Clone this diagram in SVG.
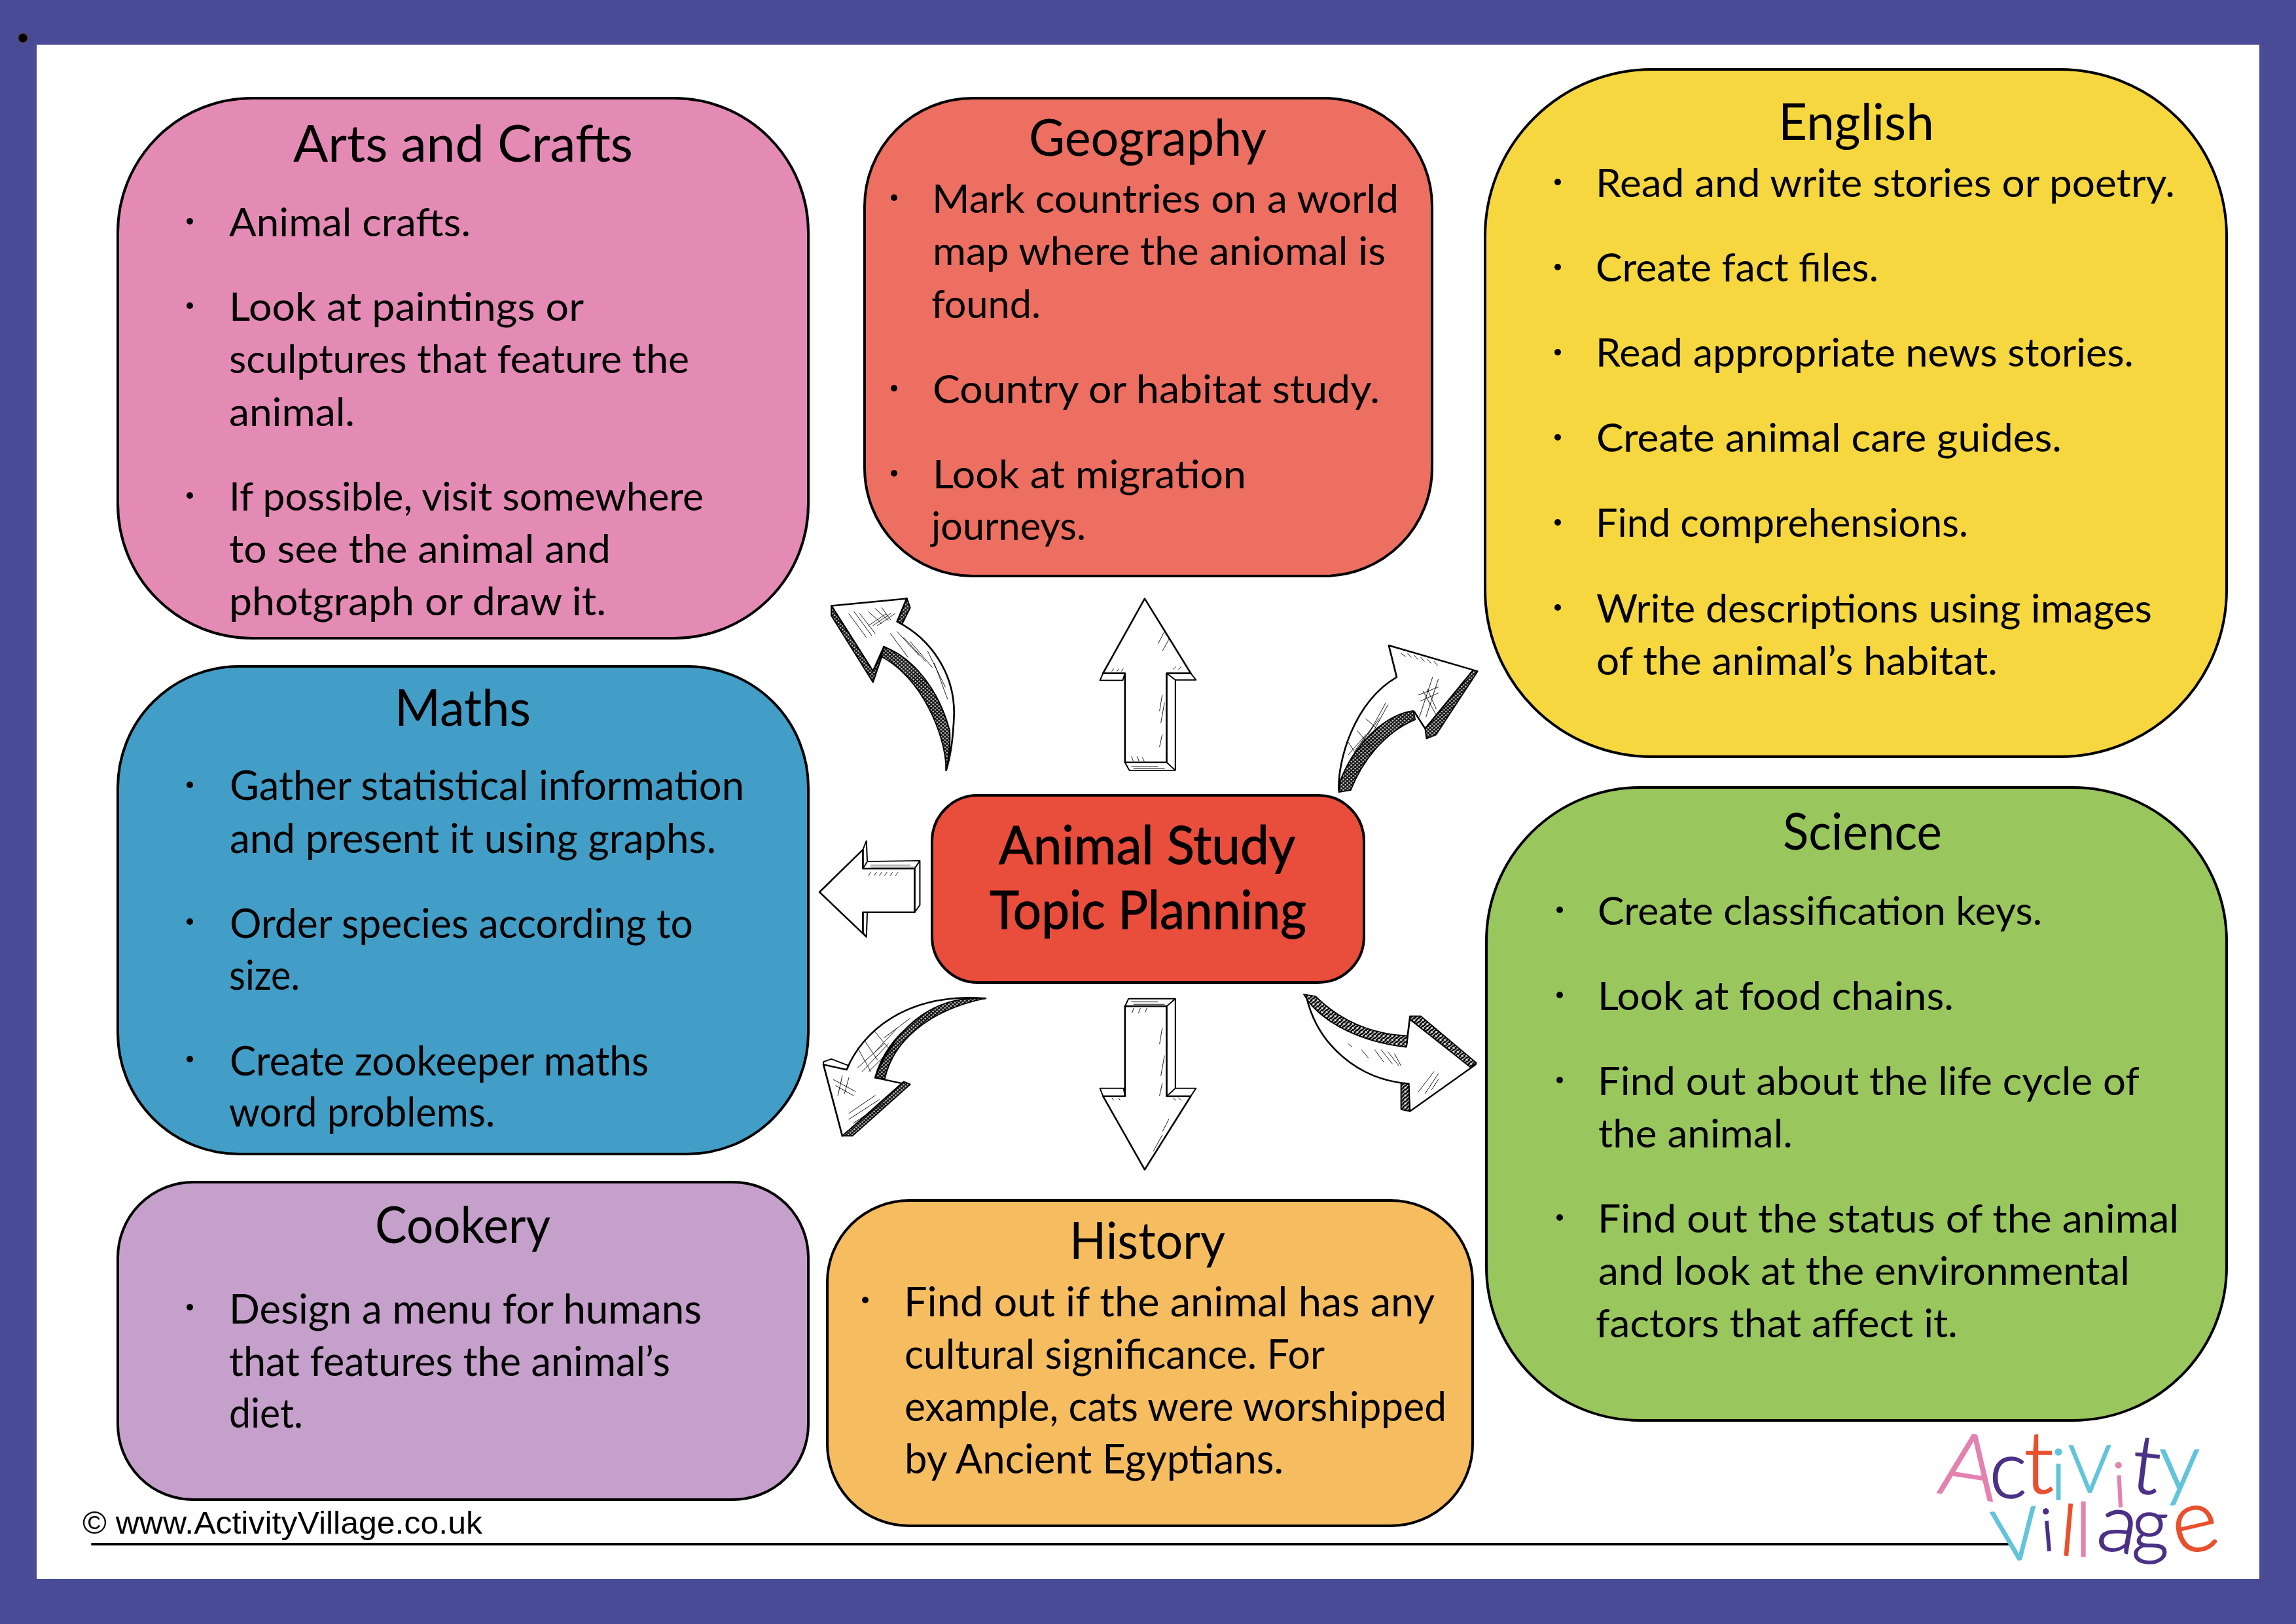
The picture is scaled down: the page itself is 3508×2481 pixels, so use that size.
<svg xmlns="http://www.w3.org/2000/svg" width="3508" height="2481" viewBox="0 0 3508 2481">
<style>
.box{stroke:#000;stroke-width:4}
text{font-family:"Lato","Noto Sans",sans-serif;fill:#000}
.t{font-size:78px}
.b{font-size:60px}
.bb{font-size:62px}
.c{font-size:82px}
.f{font-family:"Liberation Sans",Arial,sans-serif;font-size:49px}
.dot{fill:#000}
.af{fill:#fff;stroke:#000;stroke-width:4;stroke-linejoin:round}
.as{fill:#fff;stroke:#000;stroke-width:3;stroke-linejoin:round}
.ad{fill:url(#xh);stroke:#000;stroke-width:3;stroke-linejoin:round}
.ar{fill:url(#st);stroke:#000;stroke-width:3;stroke-linejoin:round}
.ah{fill:none;stroke:#000;stroke-width:1.4;stroke-linecap:round}
.lg text{font-family:"Lato","Noto Sans",sans-serif;font-weight:300;text-anchor:middle;stroke-width:1.6px}
.pk{fill:#E382B1!important;stroke:#E382B1}.pu{fill:#4B3186!important;stroke:#4B3186}.or{fill:#E9502E!important;stroke:#E9502E}.cy{fill:#62C4DA!important;stroke:#62C4DA}
</style>
<defs>
<pattern id="xh" width="9" height="9" patternUnits="userSpaceOnUse"><rect width="9" height="9" fill="#ccc"/><path d="M0 0L9 9M9 0L0 9" stroke="#000" stroke-width="2.4"/></pattern>
<pattern id="st" width="10" height="10" patternUnits="userSpaceOnUse"><rect width="10" height="10" fill="#fff"/><path d="M-2 8L8 -2M2 12L12 2" stroke="#000" stroke-width="3.8"/></pattern>
</defs>
<rect id="frame" width="3508" height="2481" fill="#494B96"/>
<rect id="page" x="56" y="68.5" width="3396" height="2343.5" fill="#fff"/>
<circle id="mark" cx="35" cy="58" r="7" fill="#000" stroke="#6b3a10" stroke-width="1"/>

<g id="arts">
<rect class="box" x="180" y="150" width="1055" height="825" rx="205" ry="205" fill="#E48BB5"/>
<text class="t" x="448" y="247" textLength="519" lengthAdjust="spacingAndGlyphs">Arts and Crafts</text>
<circle class="dot" cx="290" cy="338" r="5"/><circle class="dot" cx="290" cy="467" r="5"/><circle class="dot" cx="290" cy="757" r="5"/>
<text class="b" x="350" y="361" textLength="369" lengthAdjust="spacingAndGlyphs">Animal crafts.</text>
<text class="b" x="350" y="490" textLength="542" lengthAdjust="spacingAndGlyphs">Look at paintings or</text>
<text class="b" x="350" y="570" textLength="703" lengthAdjust="spacingAndGlyphs">sculptures that feature the</text>
<text class="b" x="350" y="651" textLength="192" lengthAdjust="spacingAndGlyphs">animal.</text>
<text class="b" x="350" y="780" textLength="725" lengthAdjust="spacingAndGlyphs">If possible, visit somewhere</text>
<text class="b" x="350" y="860" textLength="583" lengthAdjust="spacingAndGlyphs">to see the animal and</text>
<text class="b" x="350" y="940" textLength="576" lengthAdjust="spacingAndGlyphs">photgraph or draw it.</text>
</g>

<g id="maths">
<rect class="box" x="180" y="1018" width="1055" height="745" rx="185" ry="185" fill="#429EC6"/>
<text class="t" x="603" y="1109" textLength="208" lengthAdjust="spacingAndGlyphs">Maths</text>
<circle class="dot" cx="290" cy="1199" r="5"/><circle class="dot" cx="290" cy="1408" r="5"/><circle class="dot" cx="290" cy="1618" r="5"/>
<text class="bb" x="351" y="1222" textLength="786" lengthAdjust="spacingAndGlyphs">Gather statistical information</text>
<text class="bb" x="351" y="1303" textLength="743" lengthAdjust="spacingAndGlyphs">and present it using graphs.</text>
<text class="bb" x="351" y="1433" textLength="708" lengthAdjust="spacingAndGlyphs">Order species according to</text>
<text class="bb" x="350" y="1512" textLength="108" lengthAdjust="spacingAndGlyphs">size.</text>
<text class="bb" x="351" y="1643" textLength="640" lengthAdjust="spacingAndGlyphs">Create zookeeper maths</text>
<text class="bb" x="350" y="1721" textLength="406" lengthAdjust="spacingAndGlyphs">word problems.</text>
</g>

<g id="cookery">
<rect class="box" x="180" y="1806" width="1055" height="485" rx="115" ry="115" fill="#C5A0CB"/>
<text class="t" x="573" y="1899" textLength="268" lengthAdjust="spacingAndGlyphs">Cookery</text>
<circle class="dot" cx="290" cy="1997" r="5"/>
<text class="bb" x="350" y="2022" textLength="722" lengthAdjust="spacingAndGlyphs">Design a menu for humans</text>
<text class="bb" x="350" y="2102" textLength="674" lengthAdjust="spacingAndGlyphs">that features the animal’s</text>
<text class="bb" x="350" y="2181" textLength="113" lengthAdjust="spacingAndGlyphs">diet.</text>
</g>

<g id="geography">
<rect class="box" x="1321" y="150" width="867" height="730" rx="165" ry="165" fill="#EC6F61"/>
<text class="t" x="1572" y="238" textLength="363" lengthAdjust="spacingAndGlyphs">Geography</text>
<circle class="dot" cx="1366" cy="302" r="5"/><circle class="dot" cx="1366" cy="593" r="5"/><circle class="dot" cx="1366" cy="723" r="5"/>
<text class="b" x="1424" y="325" textLength="713" lengthAdjust="spacingAndGlyphs">Mark countries on a world</text>
<text class="b" x="1425" y="405" textLength="692" lengthAdjust="spacingAndGlyphs">map where the aniomal is</text>
<text class="b" x="1423" y="486" textLength="167" lengthAdjust="spacingAndGlyphs">found.</text>
<text class="b" x="1425" y="616" textLength="683" lengthAdjust="spacingAndGlyphs">Country or habitat study.</text>
<text class="b" x="1425" y="746" textLength="479" lengthAdjust="spacingAndGlyphs">Look at migration</text>
<text class="b" x="1423" y="825" textLength="236" lengthAdjust="spacingAndGlyphs">journeys.</text>
</g>

<g id="history">
<rect class="box" x="1264" y="1834" width="986" height="497" rx="125" ry="125" fill="#F6BD60"/>
<text class="t" x="1634" y="1923" textLength="238" lengthAdjust="spacingAndGlyphs">History</text>
<circle class="dot" cx="1322" cy="1986" r="5"/>
<text class="bb" x="1381" y="2011" textLength="811" lengthAdjust="spacingAndGlyphs">Find out if the animal has any</text>
<text class="bb" x="1382" y="2091" textLength="642" lengthAdjust="spacingAndGlyphs">cultural significance. For</text>
<text class="bb" x="1382" y="2171" textLength="828" lengthAdjust="spacingAndGlyphs">example, cats were worshipped</text>
<text class="bb" x="1382" y="2251" textLength="579" lengthAdjust="spacingAndGlyphs">by Ancient Egyptians.</text>
</g>

<g id="english">
<rect class="box" x="2269" y="106" width="1133" height="1050" rx="255" ry="255" fill="#F6D740"/>
<text class="t" x="2717" y="214" textLength="238" lengthAdjust="spacingAndGlyphs">English</text>
<circle class="dot" cx="2380" cy="278" r="5"/><circle class="dot" cx="2380" cy="408" r="5"/><circle class="dot" cx="2380" cy="538" r="5"/><circle class="dot" cx="2380" cy="668" r="5"/><circle class="dot" cx="2380" cy="798" r="5"/><circle class="dot" cx="2380" cy="928" r="5"/>
<text class="b" x="2438" y="301" textLength="885" lengthAdjust="spacingAndGlyphs">Read and write stories or poetry.</text>
<text class="b" x="2438" y="430" textLength="432" lengthAdjust="spacingAndGlyphs">Create fact files.</text>
<text class="b" x="2438" y="560" textLength="822" lengthAdjust="spacingAndGlyphs">Read appropriate news stories.</text>
<text class="b" x="2439" y="690" textLength="711" lengthAdjust="spacingAndGlyphs">Create animal care guides.</text>
<text class="b" x="2438" y="820" textLength="569" lengthAdjust="spacingAndGlyphs">Find comprehensions.</text>
<text class="b" x="2439" y="951" textLength="849" lengthAdjust="spacingAndGlyphs">Write descriptions using images</text>
<text class="b" x="2439" y="1031" textLength="613" lengthAdjust="spacingAndGlyphs">of the animal’s habitat.</text>
</g>

<g id="science">
<rect class="box" x="2271" y="1203" width="1131" height="967" rx="235" ry="235" fill="#9AC65E"/>
<text class="t" x="2724" y="1298" textLength="243" lengthAdjust="spacingAndGlyphs">Science</text>
<circle class="dot" cx="2383" cy="1390" r="5"/><circle class="dot" cx="2383" cy="1520" r="5"/><circle class="dot" cx="2383" cy="1650" r="5"/><circle class="dot" cx="2383" cy="1860" r="5"/>
<text class="b" x="2441" y="1413" textLength="679" lengthAdjust="spacingAndGlyphs">Create classification keys.</text>
<text class="b" x="2441" y="1543" textLength="544" lengthAdjust="spacingAndGlyphs">Look at food chains.</text>
<text class="b" x="2441" y="1673" textLength="828" lengthAdjust="spacingAndGlyphs">Find out about the life cycle of</text>
<text class="b" x="2442" y="1753" textLength="297" lengthAdjust="spacingAndGlyphs">the animal.</text>
<text class="b" x="2441" y="1883" textLength="888" lengthAdjust="spacingAndGlyphs">Find out the status of the animal</text>
<text class="b" x="2442" y="1963" textLength="812" lengthAdjust="spacingAndGlyphs">and look at the environmental</text>
<text class="b" x="2438" y="2043" textLength="553" lengthAdjust="spacingAndGlyphs">factors that affect it.</text>
</g>

<g id="center">
<rect class="box" x="1424" y="1215" width="660" height="286" rx="70" ry="70" fill="#E94D3C"/>
<text class="c" x="1526" y="1320" textLength="453" lengthAdjust="spacingAndGlyphs" stroke="#000" stroke-width="1">Animal Study</text>
<text class="c" x="1512" y="1419" textLength="484" lengthAdjust="spacingAndGlyphs" stroke="#000" stroke-width="1">Topic Planning</text>
</g>

<g id="connectors" transform="translate(1230 880) scale(.6696 .6058)">
<g id="arrow-up">
<path class="as" d="M730 470L740 490L845 490L825 470ZM825 470L845 490L845 262L825 245ZM680 245L673 263L725 263L730 245ZM880 245L892 262L845 262L825 245Z"/>
<path class="af" d="M775 57L680 245L730 245L730 470L825 470L825 245L880 245Z"/>
<path class="ah" d="M815 300l-6 40M820 320l-8 50M815 400l-6 30M820 140l-14 30M830 160l-14 28M745 455l4 12M758 455l4 12M770 458l4 10M700 240l4 -6M712 240l4 -6M722 240l4 -6M840 235l6 -6M852 235l6 -6M745 480h60M750 486h70"/>
</g>
<g id="arrow-down">
<path class="as" d="M730 1085L738 1066L845 1066L825 1085ZM825 1085L845 1066L845 1292L825 1312ZM680 1312L673 1292L727 1292L730 1312ZM880 1312L892 1292L845 1292L825 1312Z"/>
<path class="af" d="M775 1497L680 1312L730 1312L730 1085L825 1085L825 1312L880 1312Z"/>
<path class="ah" d="M815 1140l-6 40M820 1210l-8 50M815 1280l-6 30M830 1370l-14 30M815 1410l-20 40M750 1090l-4 12M765 1090l-4 12M780 1090l-4 10M700 1316l4 6M715 1316l4 6M840 1316l6 6M852 1316l6 6M745 1074h60M750 1080h70"/>
</g>
<g id="arrow-left">
<path class="as" d="M132 738L142 720L262 718L250 738ZM250 738L262 718L262 830L250 848ZM132 690L140 668L142 720L132 738ZM132 848L142 848L140 910L132 900Z"/>
<path class="af" d="M33 797L132 690L132 738L250 738L250 848L132 848L132 900L140 910Z"/>
<path class="ah" d="M145 755l5 -8M158 755l5 -8M170 755l5 -8M182 755l5 -8M195 755l5 -8M207 755l5 -8M150 729h90M150 734h100"/>
</g>
<g id="arrow-topleft">
<path class="ad" d="M232 55L240 80L222 120L208 115Z"/>
<path class="af" d="M60 75L232 57L210 115C290 160 342 250 340 350C338 410 332 455 322 490C328 400 290 250 180 178L155 240Z"/>
<path class="ad" d="M60 75L60 100L155 268L182 182L155 240Z"/>
<path class="ad" d="M180 178C245 205 305 285 330 390C332 425 328 460 322 490C322 400 265 255 174 203Z"/>
<path class="ah" d="M100 95l40 60M112 90l40 60M125 95l35 50M145 90l30 30M160 82l30 30M175 80l20 30M195 145l40 60M210 140l50 60M225 155l50 60M240 165l50 65M145 125l40 -30M155 125l40 -30M165 125l40 -30M280 190l40 90M295 220l30 90"/>
</g>
<g id="arrow-topright">
<path class="af" d="M1332 175L1525 237L1415 385L1390 342C1320 350 1250 430 1222 520L1218 540C1215 470 1250 320 1350 255Z"/>
<path class="ad" d="M1525 237L1535 240L1440 400L1418 410L1415 385Z"/>
<path class="ad" d="M1218 545L1245 540C1270 470 1320 395 1392 362L1388 340C1320 350 1250 430 1220 520Z"/>
<path class="ah" d="M1360 195l10 8M1375 195l8 10M1390 200l8 10M1405 205l8 10M1420 210l8 10M1435 215l8 10M1410 290l30 60M1420 285l20 50M1432 255l-30 100M1445 260l-28 95M1400 300l45 -20M1405 315l40 -20M1240 450l40 -50M1255 440l40 -60M1270 420l40 -60M1285 400l40 -80M1300 385l30 -60M1240 420l30 50M1260 390l30 40M1280 360l30 30"/>
</g>
<g id="arrow-bottomleft">
<path class="as" d="M42 1225L60 1218L100 1235L95 1248L42 1232Z"/>
<path class="af" d="M42 1232L95 1245C130 1150 230 1050 412 1065C290 1070 190 1150 160 1265L232 1282L85 1412Z"/>
<path class="ad" d="M225 1275L240 1282L108 1412L85 1412Z"/>
<path class="ad" d="M412 1065C310 1058 215 1115 160 1265L182 1268C200 1175 280 1095 412 1065Z"/>
<path class="ah" d="M120 1240l60 -60M130 1250l60 -70M145 1250l55 -60M160 1200l50 -60M180 1165l60 -50M120 1190l30 60M135 1170l30 50M160 1150l30 40M65 1270l50 30M70 1285l40 25M85 1260l-10 50M100 1265l-10 40M100 1370l70 -50M100 1355l60 -45M110 1380l70 -50"/>
</g>
<g id="arrow-bottomright">
<path class="af" d="M1145 1065C1190 1130 1270 1175 1372 1186L1380 1115L1530 1232L1380 1350L1376 1280C1260 1270 1170 1180 1145 1065Z"/>
<path class="ar" d="M1138 1055L1165 1060C1220 1120 1290 1155 1375 1160L1372 1188C1270 1175 1190 1130 1150 1075Z"/>
<path class="ar" d="M1380 1110L1405 1110L1532 1228L1520 1240L1380 1118Z"/>
<path class="ar" d="M1360 1280L1378 1280L1380 1350L1360 1345Z"/>
<path class="ah" d="M1300 1195l20 30M1315 1195l25 35M1330 1200l25 35M1345 1205l15 30M1270 1195l15 20M1240 1180l8 8M1400 1300l35 -50M1415 1305l30 -50M1430 1295l15 -25"/>
</g>
</g>

<g id="footer">
<path d="M141 2359H3068" stroke="#000" stroke-width="4" stroke-linecap="round" fill="none"/>
<text class="f" x="126" y="2343" textLength="611" lengthAdjust="spacingAndGlyphs">© www.ActivityVillage.co.uk</text>
</g>

<g id="logo" class="lg">
<text class="pk" transform="translate(3002 2287) rotate(9)" font-size="136">A</text>
<text class="pu" transform="translate(3068 2288)" font-size="122">c</text>
<text class="or" transform="translate(3115 2281)" font-size="133">t</text>
<text class="cy" transform="translate(3145 2291)" font-size="108">i</text>
<text class="cy" transform="translate(3193 2280)" font-size="100">V</text>
<text class="pk" transform="translate(3240 2302) rotate(-3)" font-size="95">i</text>
<text class="pu" transform="translate(3274 2281) rotate(7)" font-size="125">t</text>
<text class="cy" transform="translate(3330 2277)" font-size="125">y</text>
<text class="cy" transform="translate(3086 2383) rotate(-8)" font-size="110">V</text>
<text class="pu" transform="translate(3131 2369) rotate(-5)" font-size="90">i</text>
<text class="or" transform="translate(3157 2376) rotate(5)" font-size="108">l</text>
<text class="pk" transform="translate(3183 2378)" font-size="114">l</text>
<text class="pu" transform="translate(3230 2370) rotate(10)" font-size="125">a</text>
<text class="pu" transform="translate(3285 2368)" font-size="112">g</text>
<text class="or" transform="translate(3362 2369) rotate(-13)" font-size="136">e</text>
</g>
</svg>
